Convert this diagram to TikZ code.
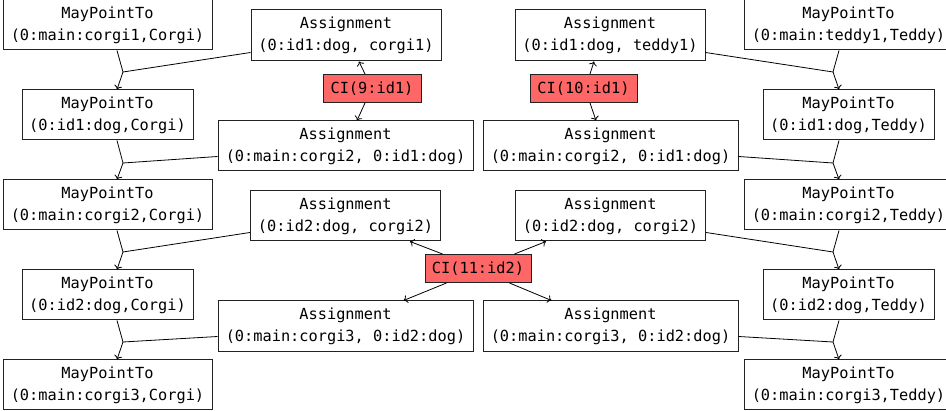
\documentclass[tikz,border=0pt]{standalone}
\usepackage{fontspec}
\setmainfont{DejaVu Sans Mono}
\usetikzlibrary{arrows.meta}
\definecolor{cired}{HTML}{FF6666}
\definecolor{boxline}{HTML}{222222}
\begin{document}
\begin{tikzpicture}[x=1pt,y=-1pt,
  every node/.style={font=\fontsize{15.3}{22}\selectfont},
  boxnode/.style={draw=boxline,line width=1pt,fill=white,align=center,inner xsep=0pt,inner ysep=0pt,minimum height=50pt},
  cinode/.style={draw=boxline,line width=1pt,fill=cired,inner sep=0pt,minimum height=28pt},
  conn/.style={line width=0.8pt,black},
  arr/.style={conn,-{To[length=4pt,width=8pt]}}]
\useasboundingbox (0,0) rectangle (946,411);
% left column
\node[boxnode,minimum width=209pt] (L1) at (107.5,25) {MayPointTo\\(0:main:corgi1,Corgi)};
\node[boxnode,minimum width=171pt] (L2) at (107.5,115) {MayPointTo\\(0:id1:dog,Corgi)};
\node[boxnode,minimum width=209pt] (L3) at (107.5,205) {MayPointTo\\(0:main:corgi2,Corgi)};
\node[boxnode,minimum width=171pt] (L4) at (107.5,295) {MayPointTo\\(0:id2:dog,Corgi)};
\node[boxnode,minimum width=209pt] (L5) at (107.5,385) {MayPointTo\\(0:main:corgi3,Corgi)};
% right column
\node[boxnode,minimum width=209pt] (R1) at (848.5,25) {MayPointTo\\(0:main:teddy1,Teddy)};
\node[boxnode,minimum width=171pt] (R2) at (848.5,115) {MayPointTo\\(0:id1:dog,Teddy)};
\node[boxnode,minimum width=209pt] (R3) at (848.5,205) {MayPointTo\\(0:main:corgi2,Teddy)};
\node[boxnode,minimum width=171pt] (R4) at (848.5,295) {MayPointTo\\(0:id2:dog,Teddy)};
\node[boxnode,minimum width=209pt] (R5) at (848.5,385) {MayPointTo\\(0:main:corgi3,Teddy)};
% assignments left
\node[boxnode,minimum width=190pt,minimum height=51pt] (A1) at (346,35.5) {Assignment\\(0:id1:dog, corgi1)};
\node[boxnode,minimum width=255pt] (A2) at (345.5,146) {Assignment\\(0:main:corgi2, 0:id1:dog)};
\node[boxnode,minimum width=190pt] (A3) at (345.5,216) {Assignment\\(0:id2:dog, corgi2)};
\node[boxnode,minimum width=255pt,minimum height=51pt] (A4) at (345.5,326.5) {Assignment\\(0:main:corgi3, 0:id2:dog)};
% assignments right
\node[boxnode,minimum width=190pt,minimum height=51pt] (A5) at (610,35.5) {Assignment\\(0:id1:dog, teddy1)};
\node[boxnode,minimum width=255pt] (A6) at (610.5,146) {Assignment\\(0:main:corgi2, 0:id1:dog)};
\node[boxnode,minimum width=190pt] (A7) at (610.5,216) {Assignment\\(0:id2:dog, corgi2)};
\node[boxnode,minimum width=255pt,minimum height=51pt] (A8) at (610.5,326.5) {Assignment\\(0:main:corgi3, 0:id2:dog)};
% CI nodes
\node[cinode,minimum width=98pt] (C9) at (372,88.5) {CI(9:id1)};
\node[cinode,minimum width=107pt] (C10) at (583.5,88.5) {CI(10:id1)};
\node[cinode,minimum width=106pt] (C11) at (478,268.5) {CI(11:id2)};
% junctions
\coordinate (J1) at (123,72);
\coordinate (J2) at (123,163);
\coordinate (J3) at (123,252);
\coordinate (J4) at (123,342);
\coordinate (K1) at (833,72);
\coordinate (K2) at (833,163);
\coordinate (K3) at (833,252);
\coordinate (K4) at (833,342);
% left chain
\draw[conn] ([xshift=9.5pt]L1.south) -- (J1);
\draw[conn] ([yshift=9pt]A1.south west) -- (J1);
\draw[arr] (J1) -- ([xshift=9.5pt]L2.north);
\draw[conn] ([xshift=9.5pt]L2.south) -- (J2);
\draw[conn] ([yshift=15pt]A2.south west) -- (J2);
\draw[arr] (J2) -- ([xshift=9.5pt]L3.north);
\draw[conn] ([xshift=9.5pt]L3.south) -- (J3);
\draw[conn] ([yshift=9pt]A3.south west) -- (J3);
\draw[arr] (J3) -- ([xshift=9.5pt]L4.north);
\draw[conn] ([xshift=9.5pt]L4.south) -- (J4);
\draw[conn] ([yshift=16pt]A4.south west) -- (J4);
\draw[arr] (J4) -- ([xshift=9.5pt]L5.north);
% right chain
\draw[conn] ([xshift=-9.5pt]R1.south) -- (K1);
\draw[conn] ([yshift=9pt]A5.south east) -- (K1);
\draw[arr] (K1) -- ([xshift=-9.5pt]R2.north);
\draw[conn] ([xshift=-9.5pt]R2.south) -- (K2);
\draw[conn] ([yshift=15pt]A6.south east) -- (K2);
\draw[arr] (K2) -- ([xshift=-9.5pt]R3.north);
\draw[conn] ([xshift=-9.5pt]R3.south) -- (K3);
\draw[conn] ([yshift=9pt]A7.south east) -- (K3);
\draw[arr] (K3) -- ([xshift=-9.5pt]R4.north);
\draw[conn] ([xshift=-9.5pt]R4.south) -- (K4);
\draw[conn] ([yshift=16pt]A8.south east) -- (K4);
\draw[arr] (K4) -- ([xshift=-9.5pt]R5.north);
% CI arrows
\draw[arr] ([xshift=-7pt]C9.north) -- ([xshift=13pt]A1.south);
\draw[arr] ([xshift=-7pt]C9.south) -- ([xshift=11.5pt]A2.north);
\draw[arr] ([xshift=6.5pt]C10.north) -- ([xshift=-16pt]A5.south);
\draw[arr] ([xshift=6.5pt]C10.south) -- ([xshift=-14.5pt]A6.north);
\draw[arr] ([xshift=18pt]C11.north west) -- ([xshift=-31pt]A3.south east);
\draw[arr] ([xshift=-17pt]C11.north east) -- ([xshift=31pt]A7.south west);
\draw[arr] ([xshift=22pt]C11.south west) -- ([xshift=-70pt]A4.north east);
\draw[arr] ([xshift=-22pt]C11.south east) -- ([xshift=69pt]A8.north west);
\end{tikzpicture}
\end{document}
